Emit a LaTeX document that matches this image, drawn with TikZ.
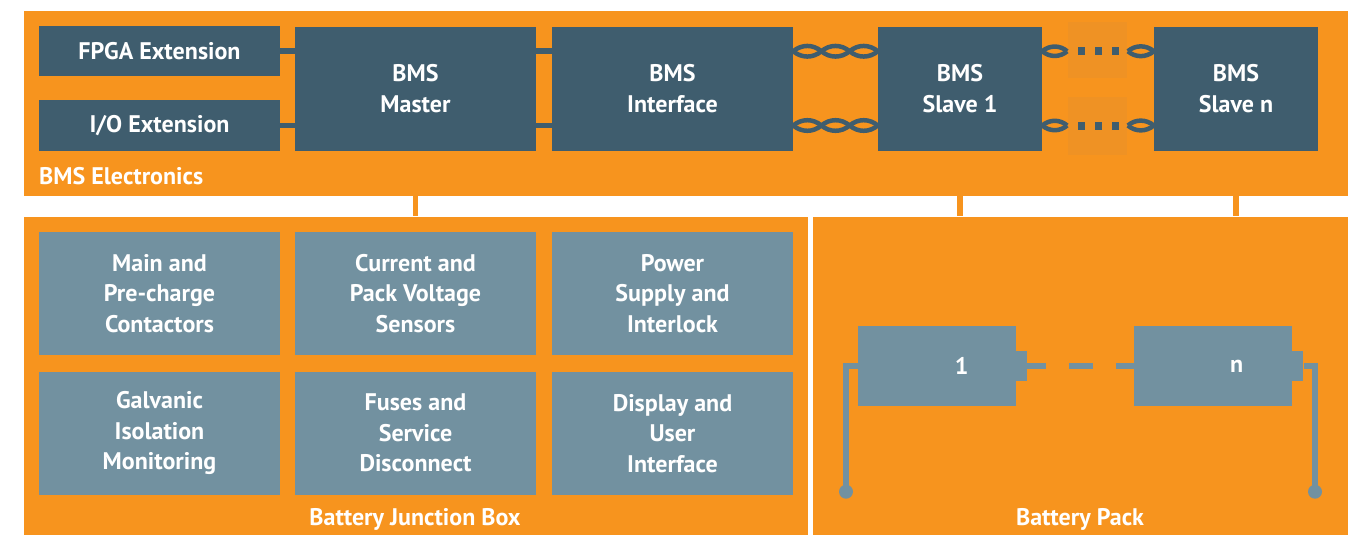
\documentclass[tikz,border=0pt]{standalone}
\usepackage{fontspec}
\setmainfont{PT Sans}
\usetikzlibrary{calc}
\definecolor{bmsorange}{RGB}{247,148,30}
\definecolor{bmsfaint}{RGB}{239,146,36}
\definecolor{bmsdark}{RGB}{63,93,110}
\definecolor{bmslight}{RGB}{114,145,160}
\begin{document}
\begin{tikzpicture}[x=1pt,y=-1pt,
  lbl/.style={text=white,font=\bfseries\fontsize{24}{30.5}\selectfont,align=center,inner sep=0pt},
  panel/.style={fill=bmsorange,draw=none,inner sep=0pt,minimum width=#1},
  darkbox/.style={lbl,fill=bmsdark,minimum width=241pt,minimum height=124pt},
  extbox/.style={lbl,fill=bmsdark,minimum width=241pt,minimum height=50.5pt},
  slavebox/.style={lbl,fill=bmsdark,minimum width=164pt,minimum height=124pt},
  lightbox/.style={lbl,fill=bmslight,minimum width=241pt,minimum height=123.5pt},
  cellbox/.style={lbl,fill=bmslight,minimum width=158pt,minimum height=80.3pt},
  nubbox/.style={fill=bmslight,inner sep=0pt,minimum width=11.3pt,minimum height=30pt},
  link/.style={draw=bmsdark,line width=5.6pt},
  twist/.style={draw=bmsdark,line width=4.5pt},
  bar/.style={draw=bmsorange,line width=5.6pt},
  cellwire/.style={draw=bmslight,line width=5.5pt},
]
\useasboundingbox[fill=white] (0,0) rectangle (1352,535);

% panels
\node[panel=1324pt,minimum height=184.5pt] (top) at (686,103.25) {};
\node[panel=784pt,minimum height=318.5pt] (jbox) at (416,375.75) {};
\node[panel=535pt,minimum height=318.5pt] (pack) at (1080.5,375.75) {};

\node[lbl,anchor=west] (elabel) at (39,176) {BMS Electronics};
\node[lbl] (jlabel) at (415,519) {Battery Junction Box};
\node[lbl] (plabel) at (1080,519) {Battery Pack};

% faint backgrounds of the continuation dots
\fill[bmsfaint] (1068,21.7) rectangle (1127,78.3);
\fill[bmsfaint] (1068,97.3) rectangle (1127,155);

% top row boxes
\node[extbox] (fpga) at (159.5,51.25) {FPGA Extension};
\node[extbox,minimum height=51pt] (io) at (159.5,125.5) {I/O Extension};
\node[darkbox] (master) at (415.5,88.7) {BMS\\Master};
\node[darkbox] (iface) at (672.5,88.7) {BMS\\Interface};
\node[slavebox] (s1) at (960,88.7) {BMS\\Slave 1};
\node[slavebox] (sn) at (1236,88.7) {BMS\\Slave n};

% straight links
\draw[link] (fpga.east) -- (fpga.east -| master.west);
\draw[link] (io.east) -- (io.east -| master.west);
\draw[link] (master.east |- fpga.east) -- (iface.west |- fpga.east);
\draw[link] (master.east |- io.east) -- (iface.west |- io.east);

% twisted pairs interface -> slave 1
\foreach \r in {fpga,io}{
  \coordinate (ta) at (iface.east |- \r.east);
  \coordinate (tb) at (s1.west |- \r.east);
  \draw[twist] (ta) to[out=40,in=140] ($(ta)!1/3!(tb)$) to[out=-40,in=-140] ($(ta)!2/3!(tb)$) to[out=40,in=140] (tb);
  \draw[twist] (ta) to[out=-40,in=-140] ($(ta)!1/3!(tb)$) to[out=40,in=140] ($(ta)!2/3!(tb)$) to[out=-40,in=-140] (tb);
  % slave 1 -> ... -> slave n
  \coordinate (ua) at (s1.east |- \r.east);
  \coordinate (ub) at ($(ua)+(25,0)$);
  \coordinate (vb) at (sn.west |- \r.east);
  \coordinate (va) at ($(vb)+(-26,0)$);
  \draw[twist] (ua) to[out=40,in=140] (ub);
  \draw[twist] (ua) to[out=-40,in=-140] (ub);
  \draw[twist] (va) to[out=40,in=140] (vb);
  \draw[twist] (va) to[out=-40,in=-140] (vb);
  \draw[draw=bmsdark,line width=8pt,dash pattern=on 0pt off 11pt on 7pt off 10pt on 7pt off 10pt on 7pt off 40pt] (ub) -- (va);
}

% connections between panels
\draw[bar] (master.south |- top.south) -- (master.south |- jbox.north);
\draw[bar] (s1.south |- top.south) -- (s1.south |- pack.north);
\draw[bar] (sn.south |- top.south) -- (sn.south |- pack.north);

% junction box contents
\node[lightbox] (b11) at (159.5,293.5) {Main and\\Pre-charge\\Contactors};
\node[lightbox] (b12) at (415.5,293.5) {Current and\\Pack Voltage\\Sensors};
\node[lightbox] (b13) at (672.5,293.5) {Power\\Supply and\\Interlock};
\node[lightbox] (b21) at (159.5,433.25) {Galvanic\\Isolation\\Monitoring};
\node[lightbox] (b22) at (415.5,433.25) {Fuses and\\Service\\Disconnect};
\node[lightbox] (b23) at (672.5,433.25) {Display and\\User\\Interface};

% battery pack
\node[cellbox] (c1) at (936.7,365.85) {};
\node[nubbox] (n1) at (1021.35,366) {};
\node[cellbox] (cn) at (1213,365.85) {};
\node[nubbox] (nn) at (1297.65,366) {};
\node[lbl] (l1) at (961.7,366) {1};
\node[lbl] (ln) at (1236.7,366) {n};
\coordinate (tl) at (846,491.7);
\coordinate (tr) at (1315,491.7);
\draw[cellwire] (c1.west |- n1.center) -| (tl);
\draw[cellwire] (nn.east) -| (tr);
\fill[bmslight] (tl) circle (7);
\fill[bmslight] (tr) circle (7);
\draw[cellwire,dash pattern=on 18.7pt off 23.3pt on 23.7pt off 23.3pt on 30pt] (n1.east) -- (cn.west |- n1.center);
\end{tikzpicture}
\end{document}
